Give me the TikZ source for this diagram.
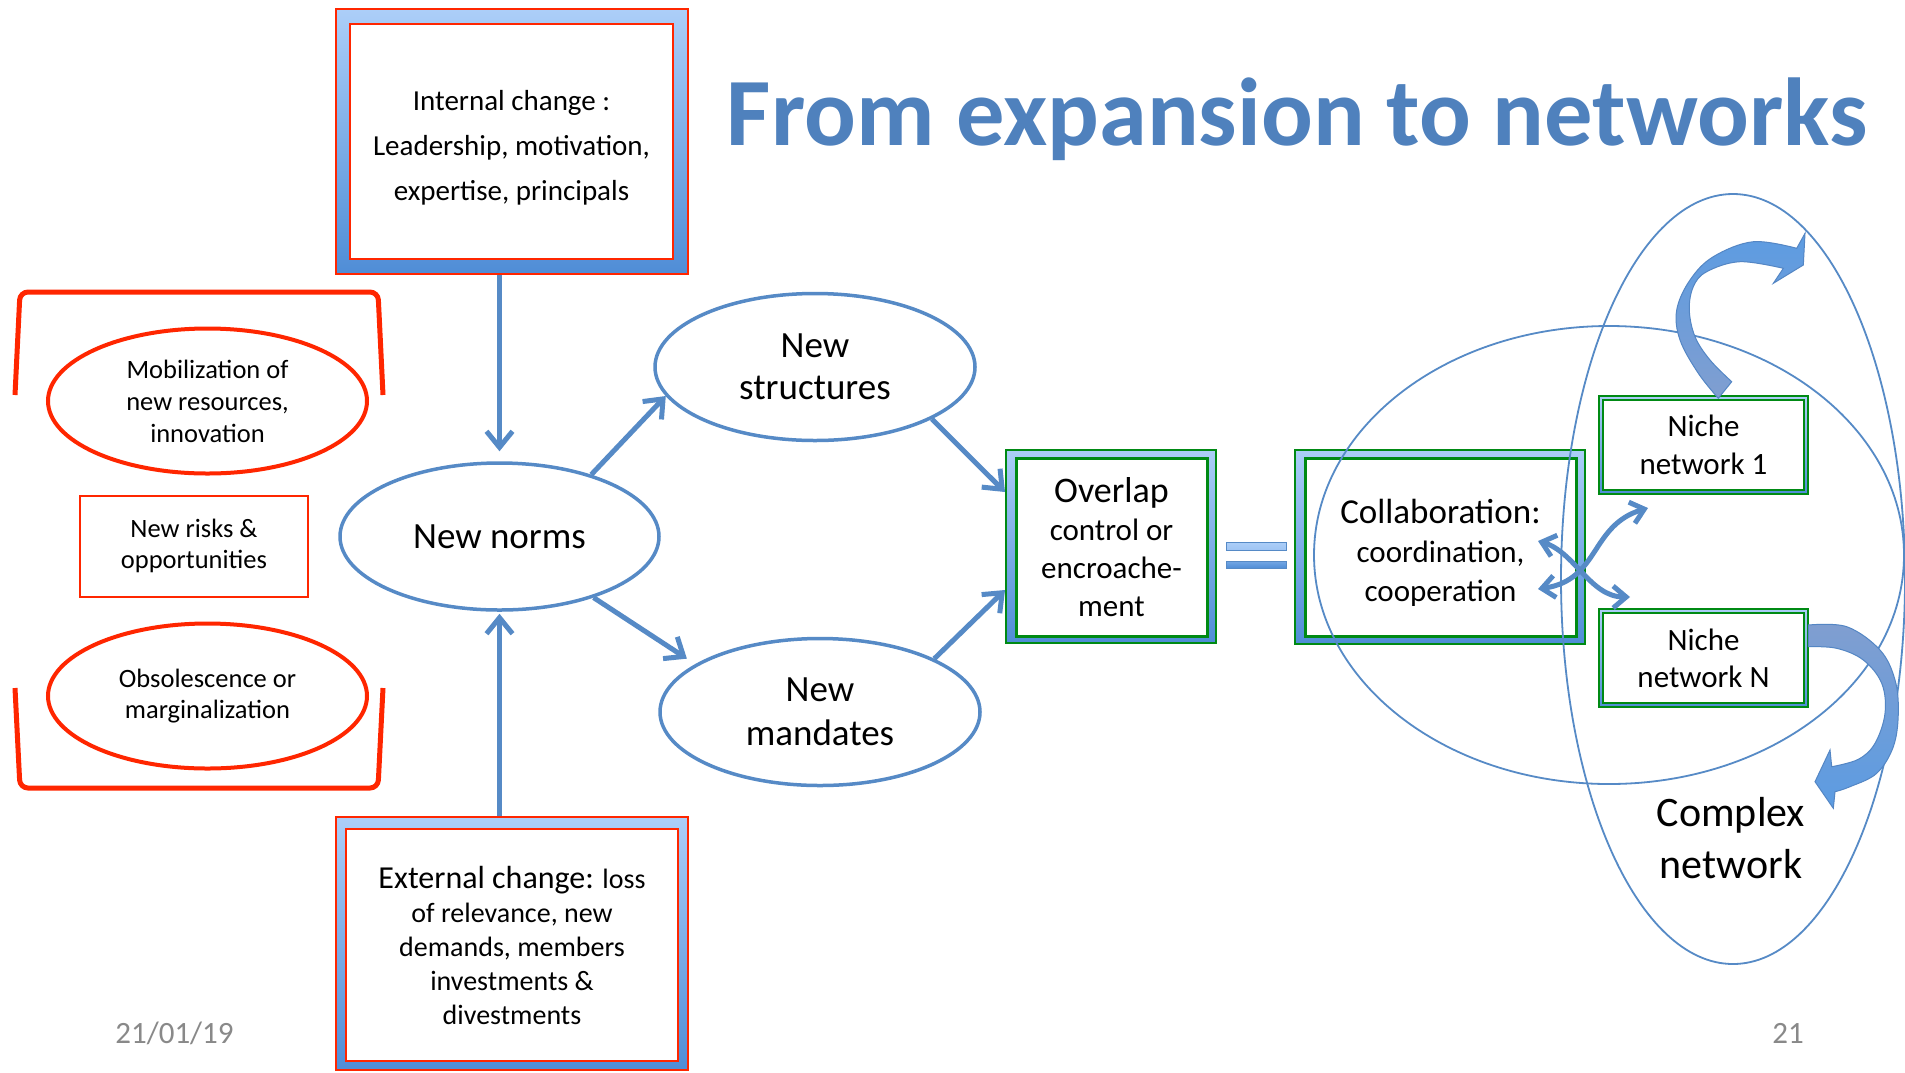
\documentclass[tikz,border=0pt]{standalone}
\usepackage{fontspec}
\setmainfont{Carlito}
\usetikzlibrary{arrows.meta,shapes.geometric}
\definecolor{lineblue}{RGB}{86,138,198}
\definecolor{bred}{RGB}{255,38,0}
\definecolor{bgreen}{RGB}{0,138,20}
\definecolor{ftop}{RGB}{172,206,248}
\definecolor{fbot}{RGB}{79,141,214}
\definecolor{titleblue}{RGB}{79,129,189}
\definecolor{arrbright}{RGB}{92,156,226}
\definecolor{arrgray}{RGB}{128,158,208}
\definecolor{arredge}{RGB}{84,134,196}
\definecolor{dategray}{RGB}{137,137,137}
\newcommand{\fsz}[2]{\fontsize{#1}{#2}\selectfont}
\begin{document}
\begin{tikzpicture}[x=1pt,y=-1pt,
  redframe/.style={rectangle, draw=bred, line width=2pt, top color=ftop, bottom color=fbot, inner sep=0pt},
  redinner/.style={rectangle, draw=bred, line width=2.5pt, fill=white, align=center, inner sep=0pt},
  greenframe/.style={rectangle, draw=bgreen, line width=2pt, top color=ftop, bottom color=fbot, inner sep=0pt},
  greeninner/.style={rectangle, draw=bgreen, line width=3pt, fill=white, align=center, inner sep=0pt},
  redell/.style={ellipse, draw=bred, line width=4pt, align=center, inner sep=0pt},
  redbox/.style={rectangle, draw=bred, line width=2pt, align=center, inner sep=0pt},
  blueell/.style={ellipse, draw=lineblue, line width=3.5pt, align=center, inner sep=0pt},
  bracket/.style={draw=bred, line width=5pt, rounded corners=8pt},
  arr/.style={draw=lineblue, line width=5pt, -{Straight Barb[length=16pt,width=26pt]}},
  darr/.style={draw=lineblue, line width=5pt, {Straight Barb[length=13pt,width=22pt]}-{Straight Barb[length=13pt,width=22pt]}},
  thinell/.style={draw=lineblue, line width=1.8pt},
  blockarr/.style={draw=arredge, line width=1pt},
  plain/.style={align=center, inner sep=0pt}]
\fill[white] (0,0) rectangle (1905,1072);
\useasboundingbox (0,0) rectangle (1905,1072);

% title
\node[anchor=base, text=titleblue, font=\fsz{96.5}{100}\bfseries] (title) at (1297,145) {From expansion to networks};

% internal change
\node[redframe, minimum width=352pt, minimum height=265pt] (intF) at (512,141.5) {};
\node[redinner, minimum width=323pt, minimum height=235pt] (int) at (511.5,141.5) {};
\node[plain, font=\fsz{29}{45}] (intT) at (511.5,148) {Internal change :\\Leadership, motivation,\\expertise, principals};

% external change
\node[redframe, minimum width=352pt, minimum height=253pt] (extF) at (512,943.5) {};
\node[redinner, minimum width=332pt, minimum height=232pt, font=\fsz{28}{34}] (ext) at (512,945) {{\fsz{32}{34}External change:} loss\\of relevance, new\\demands, members\\investments \&\\divestments};

% left brackets
\draw[bracket] (15,395) -- (20,292) -- (378,292) -- (383,395);
\draw[bracket] (15,688) -- (20,788) -- (378,788) -- (383,688);

% left column
\node[redell, minimum width=319pt, minimum height=145pt, font=\fsz{26.5}{32}] (mob) at (207.5,401) {Mobilization of\\new resources,\\innovation};
\node[redbox, minimum width=228pt, minimum height=101pt, font=\fsz{26.5}{31}] (risk) at (194,546) {New risks \&\\opportunities};
\node[redell, minimum width=319pt, minimum height=145pt, font=\fsz{26.5}{31}] (obs) at (207.5,696) {Obsolescence or\\marginalization};

% blue ellipses
\node[blueell, minimum width=319pt, minimum height=147pt, font=\fsz{37}{43}] (norms) at (499.5,536.5) {New norms};
\node[blueell, minimum width=320pt, minimum height=147pt, font=\fsz{37}{42}] (struct) at (815,367) {New\\structures};
\node[blueell, minimum width=320pt, minimum height=147pt, font=\fsz{37}{44}] (mand) at (820,712) {New\\mandates};

% green boxes
\node[greenframe, minimum width=210pt, minimum height=193pt] (ovF) at (1111,546.5) {};
\node[greeninner, minimum width=191pt, minimum height=178pt, font=\fsz{31}{38}] (ov) at (1111.5,547) {{\fsz{36}{38}Overlap}\\control or\\encroache-\\ment};

\node[greenframe, minimum width=290pt, minimum height=194pt] (colF) at (1440,547) {};
\node[greeninner, minimum width=271pt, minimum height=178pt] (col) at (1440.5,547) {};
\node[plain, font=\fsz{31}{39}] (colT) at (1440.5,553) {{\fsz{35}{38}Collaboration:}\\coordination,\\cooperation};

\node[greenframe, minimum width=209pt, minimum height=98pt] (n1F) at (1703.5,445) {};
\node[greeninner, line width=2.5pt, minimum width=201pt, minimum height=90pt, font=\fsz{31}{38}] (n1) at (1703.5,445) {Niche\\network 1};
\node[greenframe, minimum width=209pt, minimum height=98pt] (nNF) at (1703.5,658) {};
\node[greeninner, line width=2.5pt, minimum width=201pt, minimum height=90pt, font=\fsz{31}{37}] (nN) at (1703.5,658) {Niche\\network N};

% equals sign
\shade[top color=ftop, bottom color=ftop!85!fbot, draw=lineblue, line width=1pt] (1226,542) rectangle (1286,550);
\shade[top color=ftop!40!fbot, bottom color=fbot, draw=lineblue, line width=1pt] (1226,561) rectangle (1286,568);

% thin ellipses
\draw[thinell] (1609,555) ellipse [x radius=295, y radius=229];
\draw[thinell] (1733,579) ellipse [x radius=172, y radius=385];

% straight arrows
\draw[arr, shorten >=10pt] (intF.south -| norms.north) -- (norms.north);
\draw[arr, shorten >=2pt] (extF.north -| norms.south) -- (norms.south);
\draw[arr] (norms.34.5) -- (struct.191);
\draw[arr, shorten >=10pt] (norms.-33.6) -- (mand.159);
\draw[arr] (struct.-24.6) -- ([yshift=54.5pt]ovF.west);
\draw[arr] (mand.25.1) -- ([yshift=-43.5pt]ovF.west);

% curved double arrows
\coordinate (cA1) at (1538,541);
\coordinate (cA2) at (1630,597);
\coordinate (cB1) at (1538,589);
\coordinate (cB2) at (1648,508);
\draw[darr] (cA1) .. controls (1575,552) and (1590,597) .. (cA2);
\draw[darr] (cB1) .. controls (1600,580) and (1590,525) .. (cB2);

% block arrows
\path[blockarr, top color=arrbright, bottom color=arrgray]
  plot[smooth, tension=0.6] coordinates {(1718.3,398.3) (1698.3,373.3) (1680,340) (1676.7,310) (1690,280) (1713.3,256.7) (1753.3,241.7) (1796.7,248.3)}
  -- (1805,233.3) -- (1803.3,265) -- (1773.3,283.3) -- (1783.3,268.3)
  -- plot[smooth, tension=0.6] coordinates {(1783.3,268.3) (1740,261.7) (1706.7,271.7) (1693.3,286.7) (1689.3,310) (1695,336.7) (1710,360) (1731.7,381.7)}
  -- cycle;
\path[blockarr, top color=arrgray, bottom color=arrbright]
  plot[smooth, tension=0.6] coordinates {(1808.3,625) (1846.7,626.7) (1880,650) (1895,680) (1898.3,713.3) (1893.3,746.7) (1876.7,773.3) (1850,786.7) (1835,791.7)}
  -- (1833.3,808.3) -- (1815,781.7) -- (1830,750) -- (1831.7,766.7)
  -- plot[smooth, tension=0.6] coordinates {(1831.7,766.7) (1858.3,759.3) (1875,743.3) (1885,713.3) (1881.7,683.3) (1863.3,660) (1836.7,648.3) (1808.3,646.7)}
  -- cycle;

% complex network label
\node[plain, font=\fsz{42}{52}] (cn) at (1731,838) {Complex\\network};

% footer
\node[anchor=base, text=dategray, font=\fsz{31}{34}] (date) at (174.5,1043) {21/01/19};
\node[anchor=base, text=dategray, font=\fsz{31}{34}] (page) at (1788,1043) {21};
\end{tikzpicture}
\end{document}
